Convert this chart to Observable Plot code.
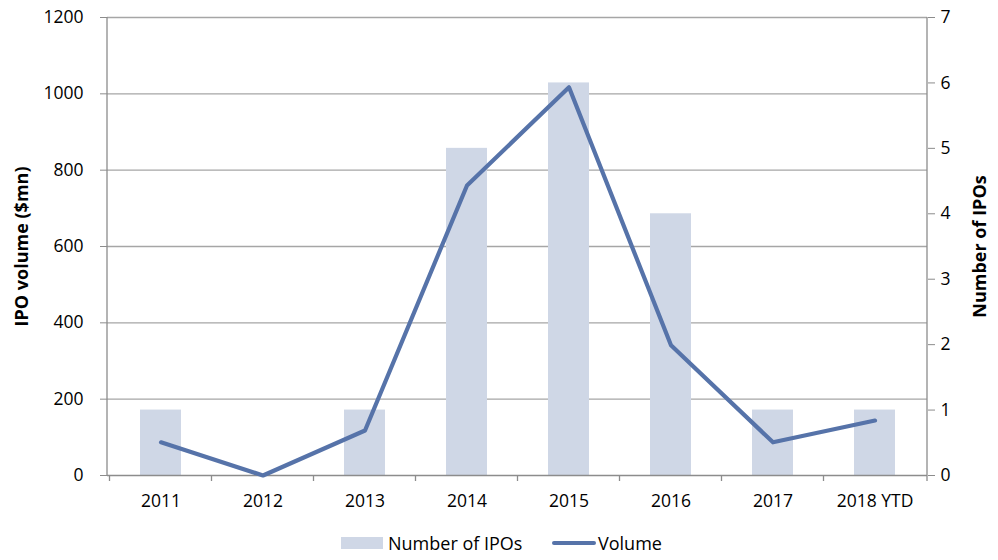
<!DOCTYPE html>
<html>
<head>
<meta charset="utf-8">
<script src="https://cdn.jsdelivr.net/npm/d3@7"></script>
<script src="https://cdn.jsdelivr.net/npm/@observablehq/plot@0.6"></script>
<style>
  html, body { margin: 0; padding: 0; background: #fff; }
  body { width: 998px; height: 560px; overflow: hidden; font-family: "Open Sans", sans-serif; }
  #legend { position: relative; height: 30px; font-size: 18px; color: #000; }
  .item { position: absolute; top: 0; display: flex; align-items: center; height: 26px; }
  .sw-bar { width: 42px; height: 12px; background: #cfd7e6; margin-right: 5px; }
  .sw-line { width: 44px; height: 4px; background: #5673a9; border-radius: 2px; margin-right: 2px; }
</style>
</head>
<body>
<div id="chart"></div>
<div id="legend">
  <div class="item" style="left:341px"><div class="sw-bar"></div><span>Number of IPOs</span></div>
  <div class="item" style="left:552px"><div class="sw-line"></div><span>Volume</span></div>
</div>
<script>
const years = ["2011", "2012", "2013", "2014", "2015", "2016", "2017", "2018 YTD"];
const ipoCounts = [1, 0, 1, 5, 6, 4, 1, 1];
const volumes = [87, 0, 118, 760, 1017, 341, 87, 144];
const leftTicks = [0, 200, 400, 600, 800, 1000, 1200];
const rightTicks = [0, 1, 2, 3, 4, 5, 6, 7];

const leftMax = 1200, rightMax = 7;
const toLeft = v => v * leftMax / rightMax;

const data = years.map((y, i) => ({year: y, count: ipoCounts[i], countScaled: toLeft(ipoCounts[i]), volume: volumes[i]}));

const gridColor = "#a6a6a6";
const axisColor = "#8c8c8c";

const plot = Plot.plot({
  width: 998,
  height: 530,
  marginTop: 17,
  marginBottom: 55,
  marginLeft: 107,
  marginRight: 71,
  style: {fontFamily: "Open Sans, sans-serif", fontSize: "17.5px", color: "#000", background: "#fff"},
  x: {domain: years, paddingInner: 0.6, paddingOuter: 0.3, label: null},
  y: {domain: [0, leftMax], label: null},
  marks: [
    Plot.ruleY(leftTicks.filter(d => d > 0), {stroke: gridColor, strokeWidth: 1.3}),
    Plot.barY(data, {x: "year", y: "countScaled", fill: "#cfd7e6"}),
    Plot.ruleY([0], {stroke: axisColor, strokeWidth: 1.3}),
    Plot.line(data, {x: "year", y: "volume", stroke: "#5673a9", strokeWidth: 4.2, strokeLinejoin: "round", strokeLinecap: "round"}),
    Plot.axisY(leftTicks, {anchor: "left", tickSize: 7, tickPadding: 17, stroke: axisColor, label: null, fill: "#000",
      fontSize: 17.5, tickFormat: d => String(d)}),
    Plot.axisY(rightTicks.map(toLeft), {anchor: "right", tickSize: 7, tickPadding: 6, stroke: axisColor, label: null, fill: "#000",
      fontSize: 17.5, tickFormat: d => String(Math.round(d * rightMax / leftMax))}),
    Plot.axisX({tickSize: 0, tickPadding: 19, label: null, fill: "#000", fontSize: 17.5}),
    Plot.text(["IPO volume ($mn)"], {frameAnchor: "left", textAnchor: "middle", rotate: -90, dx: -85, fontWeight: "bold", fontSize: 18, fill: "#000"}),
    Plot.text(["Number of IPOs"], {frameAnchor: "right", textAnchor: "middle", rotate: -90, dx: 53, fontWeight: "bold", fontSize: 18, fill: "#000"})
  ]
});

// axis lines and category boundary ticks, derived from the plot's scales
const sx = plot.scale("x"), sy = plot.scale("y");
const [x0, x1] = sx.range;
const [yb, yt] = sy.range;
const step = sx.step;
const svg = d3.select(plot);
const g = svg.append("g").attr("stroke", axisColor).attr("stroke-width", 1.3);
g.append("line").attr("x1", x0).attr("x2", x0).attr("y1", yb).attr("y2", yt);
g.append("line").attr("x1", x1).attr("x2", x1).attr("y1", yb).attr("y2", yt);
const bounds = years.map((y, i) => sx.apply(y) - (step - sx.bandwidth) / 2);
bounds.push(x1);
g.selectAll("line.b").data(bounds).join("line").attr("class", "b")
  .attr("x1", d => d).attr("x2", d => d).attr("y1", yb).attr("y2", yb + 6);

document.getElementById("chart").appendChild(plot);
</script>
</body>
</html>
